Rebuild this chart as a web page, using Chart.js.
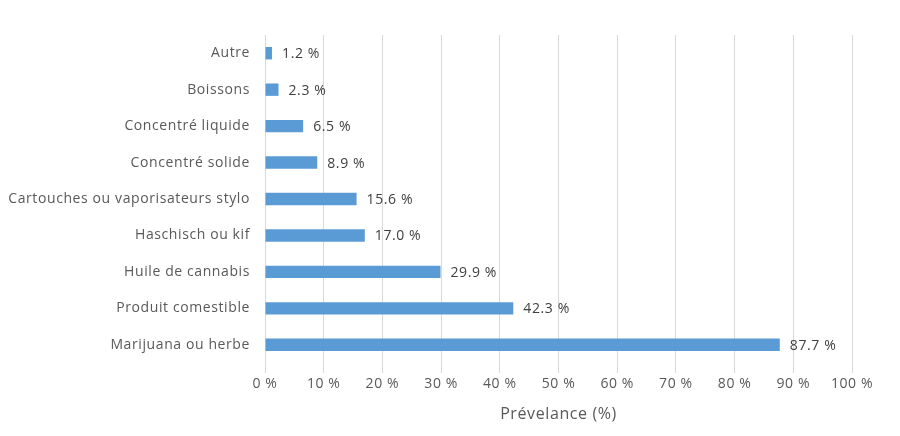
<!DOCTYPE html>
<html>
<head>
<meta charset="utf-8">
<script src="https://cdn.jsdelivr.net/npm/chart.js@4/dist/chart.umd.min.js"></script>
<style>
  body { margin: 0; background: #fff; }
</style>
</head>
<body>
<canvas id="prevChart" width="900" height="436"></canvas>
<script>
const categories = [
    'Autre', 'Boissons', 'Concentré liquide', 'Concentré solide',
    'Cartouches ou vaporisateurs stylo', 'Haschisch ou kif',
    'Huile de cannabis', 'Produit comestible', 'Marijuana ou herbe'
];
const prevalence = [1.2, 2.3, 6.5, 8.9, 15.6, 17.0, 29.9, 42.3, 87.7];
const xTicks = [0, 10, 20, 30, 40, 50, 60, 70, 80, 90, 100];

const fontFace = '"Open Sans", Lato, sans-serif';

// le texte de référence est un peu espacé (Calibri)
const spacing = {
    id: 'spacing',
    beforeLayout(chart) { chart.ctx.letterSpacing = '0.6px'; },
    beforeDraw(chart) { chart.ctx.letterSpacing = '0.6px'; }
};

// étiquettes de valeur au bout des barres
const valueLabels = {
    id: 'valueLabels',
    afterDatasetsDraw(chart) {
        const ctx = chart.ctx;
        const meta = chart.getDatasetMeta(0);
        ctx.save();
        ctx.font = '14px ' + fontFace;
        ctx.fillStyle = '#404040';
        ctx.textBaseline = 'middle';
        ctx.textAlign = 'left';
        meta.data.forEach((bar, i) => {
            const txt = prevalence[i].toFixed(1) + ' %';
            ctx.fillText(txt, bar.x + 10, bar.y + 1);
        });
        ctx.restore();
    }
};

window.addEventListener('load', () => {
    const canvas = document.getElementById('prevChart');
    new Chart(canvas.getContext('2d'), {
        type: 'bar',
        data: {
            labels: categories,
            datasets: [{
                data: prevalence,
                backgroundColor: '#5B9BD5',
                borderWidth: 0,
                barPercentage: 0.34,
                categoryPercentage: 1
            }]
        },
        options: {
            indexAxis: 'y',
            responsive: false,
            animation: false,
            layout: { padding: { top: 35, right: 48, left: 0, bottom: 0 } },
            plugins: {
                legend: { display: false },
                tooltip: { enabled: false }
            },
            scales: {
                x: {
                    min: 0,
                    max: 100,
                    afterBuildTicks: (scale) => {
                        scale.ticks = xTicks.map(v => ({ value: v }));
                    },
                    afterFit: (scale) => { scale.height = 73; },
                    grid: { color: '#D9D9D9', tickLength: 10, drawTicks: true },
                    border: { display: false },
                    ticks: {
                        color: '#595959',
                        font: { size: 14, family: fontFace },
                        padding: 3,
                        maxRotation: 0,
                        callback: (v) => v + ' %'
                    },
                    title: {
                        display: true,
                        text: 'Prévelance (%)',
                        color: '#595959',
                        font: { size: 16, family: fontFace },
                        padding: { top: 8, bottom: 12 }
                    }
                },
                y: {
                    afterFit: (scale) => { scale.width = 265; },
                    grid: { display: false, drawTicks: false },
                    border: { display: false },
                    ticks: {
                        color: '#595959',
                        font: { size: 14, family: fontFace },
                        padding: 15
                    }
                }
            }
        },
        plugins: [spacing, valueLabels]
    });
});
</script>
</body>
</html>
